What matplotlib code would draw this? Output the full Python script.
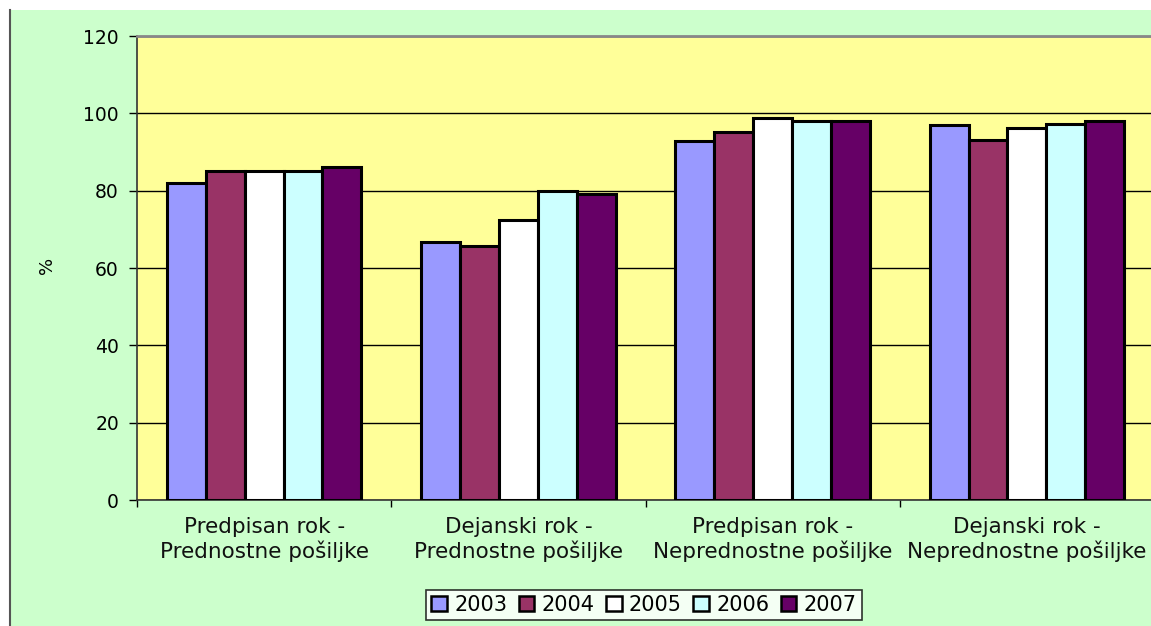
import matplotlib
matplotlib.use("Agg")
import matplotlib.pyplot as plt
import numpy as np
from matplotlib.patches import Rectangle

plt.rcParams['font.family'] = ['DejaVu Sans']

categories = [
    "Predpisan rok -\nPrednostne pošiljke",
    "Dejanski rok -\nPrednostne pošiljke",
    "Predpisan rok -\nNeprednostne pošiljke",
    "Dejanski rok -\nNeprednostne pošiljke",
]
years = ["2003", "2004", "2005", "2006", "2007"]
values_2003 = [82, 66.7, 92.8, 97]
values_2004 = [85, 65.7, 95.2, 93.1]
values_2005 = [85, 72.3, 98.8, 96.2]
values_2006 = [85, 80, 97.9, 97.2]
values_2007 = [86, 79.1, 97.9, 97.9]
series = [values_2003, values_2004, values_2005, values_2006, values_2007]
colors = ["#9999FF", "#993366", "#FFFFFF", "#CCFFFF", "#660066"]
yticks = [0, 20, 40, 60, 80, 100, 120]

W, H = 1151, 626
fig = plt.figure(figsize=(W / 100, H / 100), dpi=100)
fig.patch.set_facecolor("white")

# green chart-area panel with a dark left border
panel = Rectangle((10 / W, 0), 1.2, (H - 10) / H, transform=fig.transFigure,
                  facecolor="#CCFFCC", edgecolor="none", zorder=-5)
fig.add_artist(panel)
fig.add_artist(plt.Line2D([10 / W, 10 / W], [0, (H - 10) / H],
                          transform=fig.transFigure, color="#555555", lw=1.5,
                          zorder=-4))

left, right, top, bottom = 137, 1154, 36, 500
ax = fig.add_axes([left / W, (H - bottom) / H, (right - left) / W, (bottom - top) / H])
ax.set_facecolor("#FFFF99")

n = len(categories)
x = np.arange(n)
bw = 0.153
offsets = (np.arange(len(years)) - 2) * bw
for vals, col, yr, off in zip(series, colors, years, offsets):
    ax.bar(x + off, vals, width=bw, color=col, edgecolor="black", linewidth=2.2,
           label=yr, zorder=3)

ax.set_xlim(-0.5, n - 0.5)
ax.set_ylim(0, 120)
ax.set_yticks(yticks)
ax.set_yticklabels([str(t) for t in yticks], fontsize=13.5)
ax.yaxis.grid(True, color="black", linewidth=1.0, zorder=1)
ax.set_axisbelow(True)

ax.set_xticks(np.arange(n + 1) - 0.5)
ax.set_xticklabels([""] * (n + 1))
ax.tick_params(axis="x", length=5, width=1, color="black", direction="out")
ax.tick_params(axis="y", length=6, width=1, color="black", direction="out", pad=7)
for i, c in enumerate(categories):
    ax.text(i, -4.5, c, ha="center", va="top", fontsize=15.5, linespacing=1.2,
            color="#111111", transform=ax.transData, clip_on=False)

for s in ["left", "bottom"]:
    ax.spines[s].set_color("#333333")
    ax.spines[s].set_linewidth(1.2)
ax.spines["top"].set_color("#888888")
ax.spines["top"].set_linewidth(2)
ax.spines["right"].set_visible(False)

fig.text(47 / W, (H - 265) / H, "%", rotation=90, ha="center", va="center", fontsize=13)

leg = fig.legend(loc="center", bbox_to_anchor=(644 / W, (H - 605) / H), ncol=5,
                 fontsize=15, frameon=True, fancybox=False, handlelength=0.75,
                 handleheight=0.75, handletextpad=0.35, columnspacing=0.55,
                 borderpad=0.25, edgecolor="black")
leg.get_frame().set_linewidth(1.2)
leg.get_frame().set_facecolor("white")
for h in leg.legend_handles:
    h.set_linewidth(1.8)

fig.savefig("out.png", dpi=100, facecolor=fig.get_facecolor())
